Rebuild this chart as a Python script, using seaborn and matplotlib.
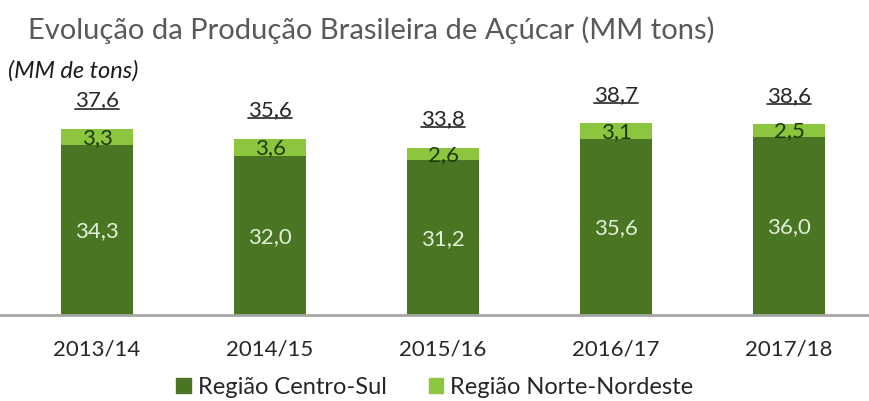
import matplotlib
matplotlib.use('Agg')
import matplotlib.pyplot as plt
from matplotlib.lines import Line2D
from matplotlib.patches import Patch
import seaborn as sns
import pandas as pd

safras = ['2013/14', '2014/15', '2015/16', '2016/17', '2017/18']
centro_sul = [34.3, 32.0, 31.2, 35.6, 36.0]
norte_nordeste = [3.3, 3.6, 2.6, 3.1, 2.5]
totais = [37.6, 35.6, 33.8, 38.7, 38.6]

cor_cs = '#4a7523'
cor_nn = '#8cc63e'

sns.set_style('white')
plt.rcParams['font.family'] = ['Lato', 'DejaVu Sans']

df = pd.DataFrame({'safra': safras, 'cs': centro_sul, 'nn': norte_nordeste})

def fmt(v):
    return f'{v:.1f}'.replace('.', ',')

fig = plt.figure(figsize=(8.7, 4.02), dpi=100)
ax = fig.add_axes([0, 0.214, 1, 0.562])

sns.barplot(data=df, x='safra', y='cs', color=cor_cs, width=0.42,
            saturation=1, errorbar=None, linewidth=0, ax=ax)
sns.barplot(data=df, x='safra', y='nn', bottom=df['cs'], color=cor_nn,
            width=0.42, saturation=1, errorbar=None, linewidth=0, ax=ax)

ax.set_xlim(-0.561, 4.468)
ax.set_ylim(0, 45.6)
ax.set_xlabel('')
ax.set_ylabel('')
ax.set_yticks([])
for s in ['top', 'left', 'right']:
    ax.spines[s].set_visible(False)
ax.spines['bottom'].set_color('#a6a6a6')
ax.spines['bottom'].set_linewidth(2)
ax.tick_params(axis='x', length=0, labelsize=16, colors='#262626', pad=17)

totais_txt = []
for i in range(len(safras)):
    ax.text(i, centro_sul[i] / 2, fmt(centro_sul[i]), ha='center', va='center',
            fontsize=16, color='#e2efd9')
    ax.text(i, centro_sul[i] + norte_nordeste[i] / 2, fmt(norte_nordeste[i]),
            ha='center', va='center', fontsize=16, color='#1e3a0a')
    t = ax.annotate(fmt(totais[i]), (i, centro_sul[i] + norte_nordeste[i]),
                    xytext=(0, 21), textcoords='offset points', ha='center',
                    va='center', fontsize=16, color='#262626')
    totais_txt.append(t)

fig.text(0.032, 0.925, 'Evolução da Produção Brasileira de Açúcar (MM tons)',
         fontsize=21, color='#595959', va='center')
fig.text(0.009, 0.825, '(MM de tons)', fontsize=17, style='italic',
         color='#1a1a1a', va='center')

handles = [Patch(color=cor_cs), Patch(color=cor_nn)]
fig.legend(handles, ['Região Centro-Sul', 'Região Norte-Nordeste'],
           loc='center', bbox_to_anchor=(0.5, 0.035), ncol=2, frameon=False,
           fontsize=17, handlelength=0.6, handleheight=0.6, handletextpad=0.3,
           columnspacing=1.8, labelcolor='#262626', borderpad=0)

# sublinhado dos totais
fig.canvas.draw()
r = fig.canvas.get_renderer()
for t in totais_txt:
    bb = t.get_window_extent(r)
    y = bb.y0 + 1
    fig.add_artist(Line2D([bb.x0, bb.x1], [y, y], transform=None,
                          color='#262626', lw=1.2))

fig.savefig('out.png', dpi=100)
